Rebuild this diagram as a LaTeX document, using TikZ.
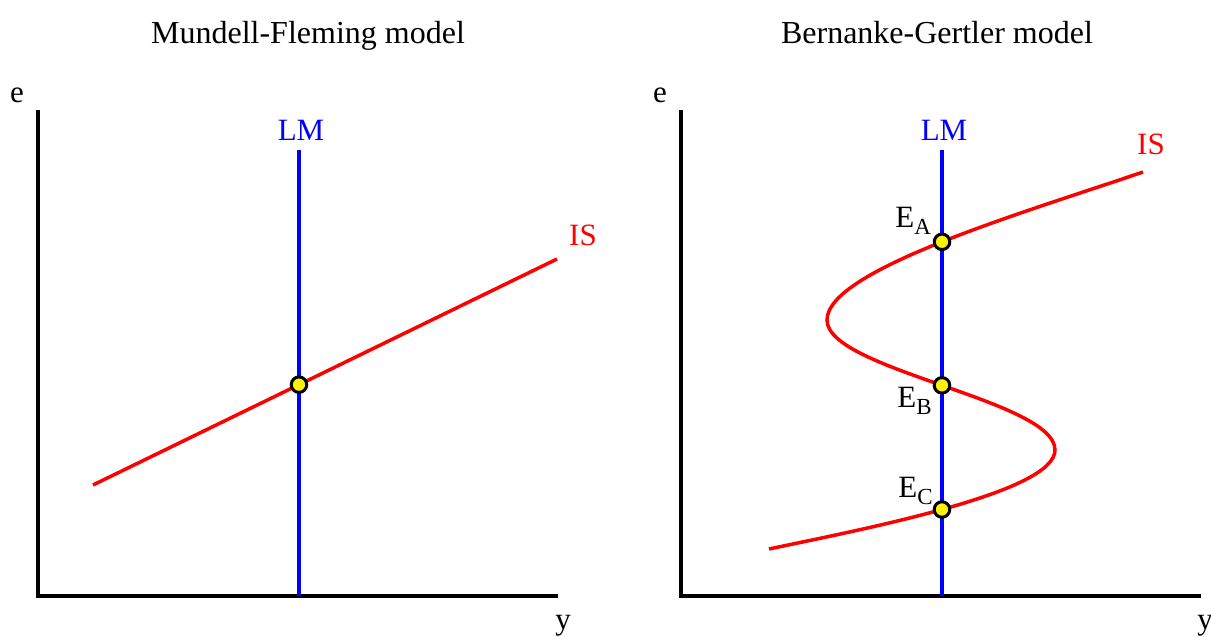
\documentclass[tikz,border=0pt]{standalone}
\usepackage{fontspec}
\setmainfont{Liberation Serif}
\usetikzlibrary{intersections}
\newcommand{\eqsub}[1]{\raisebox{-0.55ex}{\fontsize{11.5}{13}\selectfont #1}}

\begin{document}
\begin{tikzpicture}[x=0.5pt, y=-0.5pt,
    axis/.style={line width=2.25pt, black, line cap=butt},
    lmline/.style={line width=1.75pt, blue},
    isline/.style={line width=1.75pt, red},
    eqpt/.style={circle, draw=black, fill=yellow, line width=1.5pt, minimum size=7.75pt, inner sep=0pt},
    lbl/.style={font=\fontsize{15.5}{18}\selectfont, inner sep=0pt},
    ttl/.style={font=\fontsize{16}{19}\selectfont, inner sep=0pt, anchor=base}
]
    \useasboundingbox (0,0) rectangle (1211,637);

    % Mundell-Fleming
    \node[ttl] (mftitle) at (308,43) {Mundell-Fleming model};
    \coordinate (mfo) at (38,596);
    \draw[axis] (38,110) -- (mfo) -- (558,596);
    \node[lbl] (mfe) at (17,95) {e};
    \node[lbl] (mfy) at (563,626) {y};
    \coordinate (mflmtop) at (299,150);
    \coordinate (mflmbot) at (299,596);
    \draw[lmline, name path=mflm] (mflmtop) -- (mflmbot);
    \node[lbl, text=blue] (mflmlbl) at (301,130) {LM};
    \coordinate (mfis0) at (93,485);
    \coordinate (mfis1) at (557,259);
    \draw[isline, name path=mfis] (mfis0) -- (mfis1);
    \node[lbl, text=red] (mfislbl) at (583,235) {IS};
    \path[name intersections={of=mflm and mfis, name=mfx}];
    \node[eqpt] (mfeq) at (mfx-1) {};

    % Bernanke-Gertler
    \node[ttl] (bgtitle) at (937,43) {Bernanke-Gertler model};
    \coordinate (bgo) at (681,596);
    \draw[axis] (681,110) -- (bgo) -- (1201,596);
    \node[lbl] (bge) at (660,95) {e};
    \node[lbl] (bgy) at (1205,626) {y};
    \coordinate (bglmtop) at (942,150);
    \coordinate (bglmbot) at (942,596);
    \draw[lmline, name path=bglm] (bglmtop) -- (bglmbot);
    \node[lbl, text=blue] (bglmlbl) at (944,130) {LM};
    \coordinate (bgis0) at (769,549);
    \coordinate (bgisr) at (1055,450);
    \coordinate (bgisl) at (827,320);
    \coordinate (bgis1) at (1143,172);
    \draw[isline, name path=bgis] (bgis0) .. controls (869,528) and (1055,492) .. (bgisr)
        .. controls (1055,400) and (827,370) .. (bgisl)
        .. controls (827,270) and (1023,213) .. (bgis1);
    \node[lbl, text=red] (bgislbl) at (1151,144) {IS};
    \path[name intersections={of=bglm and bgis, name=bgx, sort by=bglm}];
    \node[eqpt] (eqa) at (bgx-1) {};
    \node[eqpt] (eqb) at (bgx-2) {};
    \node[eqpt] (eqc) at (bgx-3) {};
    \node[lbl, anchor=base west] (eqalbl) at (895,227) {E\eqsub{A}};
    \node[lbl, anchor=base west] (eqblbl) at (897,407) {E\eqsub{B}};
    \node[lbl, anchor=base west] (eqclbl) at (898,497) {E\eqsub{C}};
\end{tikzpicture}
\end{document}
